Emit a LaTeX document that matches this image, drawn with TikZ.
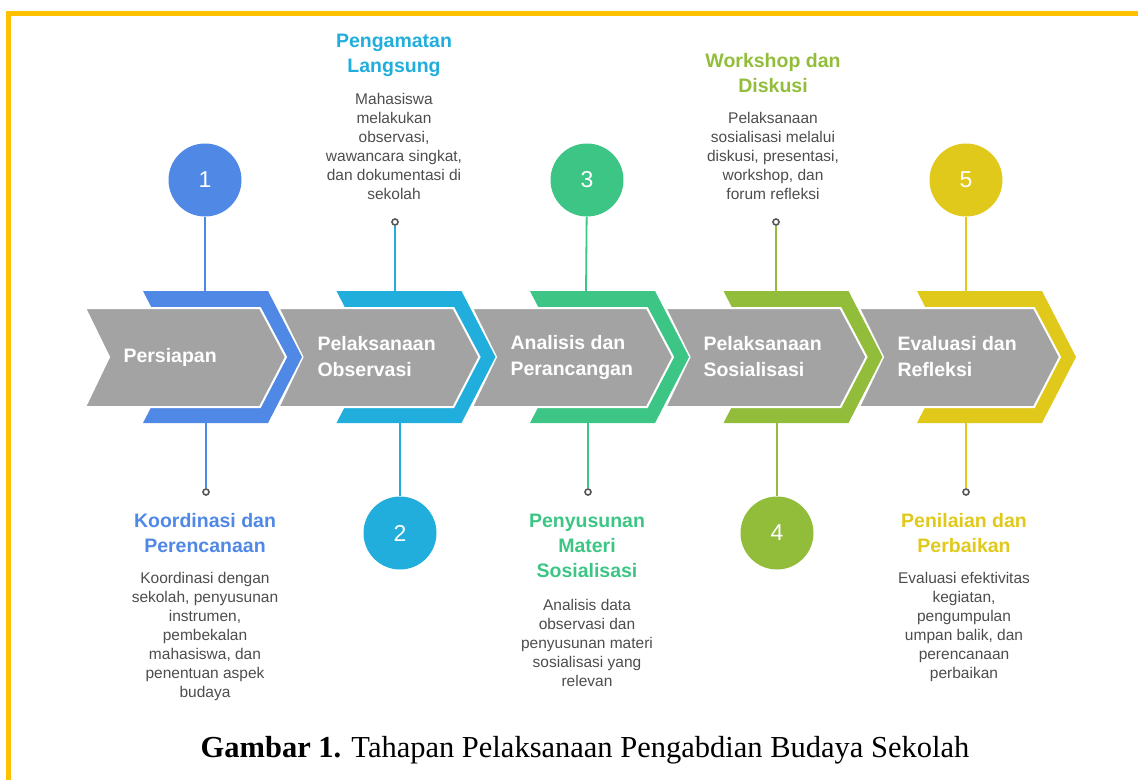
\documentclass[tikz,border=0pt]{standalone}
\usepackage{fontspec}
\setmainfont{Liberation Sans}
\newfontfamily\capfont{Liberation Serif}

\definecolor{stepA}{HTML}{4F88E5}
\definecolor{stepB}{HTML}{22AEDC}
\definecolor{stepC}{HTML}{3CC584}
\definecolor{stepD}{HTML}{92BD3A}
\definecolor{stepE}{HTML}{E0C91A}
\definecolor{bandgray}{HTML}{A3A3A3}
\definecolor{framegold}{HTML}{FFC000}
\definecolor{desctext}{HTML}{4D4D4D}
\definecolor{dotgray}{HTML}{555555}

\tikzset{
  numcircle/.style={circle, minimum size=73pt, inner sep=0pt, text=white, font=\fontsize{23}{23}\selectfont},
  smalldot/.style={circle, draw=dotgray, fill=white, line width=1.6pt, minimum size=6pt, inner sep=0pt},
  connector/.style={line width=1.8pt},
  steptitle/.style={align=center, font=\bfseries\fontsize{19.5}{25}\selectfont},
  stepdesc/.style={align=center, text=desctext, font=\fontsize{15.5}{19}\selectfont},
  steplabel/.style={anchor=west, align=left, text=white, font=\bfseries\fontsize{19.5}{26}\selectfont},
}

\begin{document}
\begin{tikzpicture}[x=1pt, y=-1pt]
    \useasboundingbox (0,0) rectangle (1138,780);

    % Frame
    \draw[framegold, line width=5pt] (8,780) -- (8,13) -- (1138,13);

    % Chevron band (drawn from the last step back to the first)
    \foreach \i/\col in {5/stepE, 4/stepD, 3/stepC, 2/stepB, 1/stepA} {
        \pgfmathsetmacro{\o}{(\i-1)*193.5}
        \fill[\col] (143+\o,291) -- (268+\o,291) -- (302+\o,357) -- (268+\o,423)
            -- (143+\o,423) -- (177+\o,357) -- cycle;
        \filldraw[fill=bandgray, draw=white, line width=2pt] (85+\o,308) -- (260+\o,308)
            -- (286+\o,357) -- (260+\o,407) -- (85+\o,407) -- (109+\o,357) -- cycle;
    }

    % Labels in the band
    \node[steplabel] (lab1) at (120,357) {Persiapan};
    \node[steplabel] (lab2) at (314,357) {Pelaksanaan\\Observasi};
    \node[steplabel] (lab3) at (507,357) {Analisis dan\\Perancangan};
    \node[steplabel] (lab4) at (700,357) {Pelaksanaan\\Sosialisasi};
    \node[steplabel] (lab5) at (894,357) {Evaluasi dan\\Refleksi};

    % Step 1
    \node[numcircle, fill=stepA] (c1) at (205,180) {1};
    \coordinate (t1) at (205,291);
    \coordinate (b1) at (206,423);
    \draw[connector, stepA] (c1) -- (t1);
    \node[smalldot] (d1) at (206,492) {};
    \draw[connector, stepA] (b1) -- (d1);
    \node[steptitle, text=stepA] (h1) at (205,533) {Koordinasi dan\\Perencanaan};
    \node[stepdesc] (p1) at (205,636) {Koordinasi dengan\\sekolah, penyusunan\\instrumen,\\pembekalan\\mahasiswa, dan\\penentuan aspek\\budaya};

    % Step 2
    \node[numcircle, fill=stepB] (c2) at (400,533) {2};
    \coordinate (t2) at (395,291);
    \coordinate (b2) at (400,423);
    \node[smalldot] (d2) at (395,222) {};
    \draw[connector, stepB] (d2) -- (t2);
    \draw[connector, stepB] (b2) -- (c2);
    \node[steptitle, text=stepB] (h2) at (394,55) {Pengamatan\\Langsung};
    \node[stepdesc] (p2) at (394,146) {Mahasiswa\\melakukan\\observasi,\\wawancara singkat,\\dan dokumentasi di\\sekolah};

    % Step 3
    \node[numcircle, fill=stepC] (c3) at (587,180) {3};
    \coordinate (t3) at (586,291);
    \coordinate (b3) at (588,423);
    \draw[connector, stepC] (c3) -- (t3);
    \node[smalldot] (d3) at (588,492) {};
    \draw[connector, stepC] (b3) -- (d3);
    \node[steptitle, text=stepC] (h3) at (587,546) {Penyusunan\\Materi\\Sosialisasi};
    \node[stepdesc] (p3) at (587,643) {Analisis data\\observasi dan\\penyusunan materi\\sosialisasi yang\\relevan};

    % Step 4
    \node[numcircle, fill=stepD] (c4) at (777,533) {4};
    \coordinate (t4) at (776,291);
    \coordinate (b4) at (777,423);
    \node[smalldot] (d4) at (776,222) {};
    \draw[connector, stepD] (d4) -- (t4);
    \draw[connector, stepD] (b4) -- (c4);
    \node[steptitle, text=stepD] (h4) at (773,73) {Workshop dan\\Diskusi};
    \node[stepdesc] (p4) at (773,156) {Pelaksanaan\\sosialisasi melalui\\diskusi, presentasi,\\workshop, dan\\forum refleksi};

    % Step 5
    \node[numcircle, fill=stepE] (c5) at (966,180) {5};
    \coordinate (t5) at (966,291);
    \coordinate (b5) at (966,423);
    \draw[connector, stepE] (c5) -- (t5);
    \node[smalldot] (d5) at (966,492) {};
    \draw[connector, stepE] (b5) -- (d5);
    \node[steptitle, text=stepE] (h5) at (964,533) {Penilaian dan\\Perbaikan};
    \node[stepdesc] (p5) at (964,627) {Evaluasi efektivitas\\kegiatan,\\pengumpulan\\umpan balik, dan\\perencanaan\\perbaikan};

    % Caption
    \node[font=\capfont\fontsize{30.5}{30.5}\selectfont] (caption) at (585,750)
        {\textbf{Gambar 1.} Tahapan Pelaksanaan Pengabdian Budaya Sekolah};
\end{tikzpicture}
\end{document}
